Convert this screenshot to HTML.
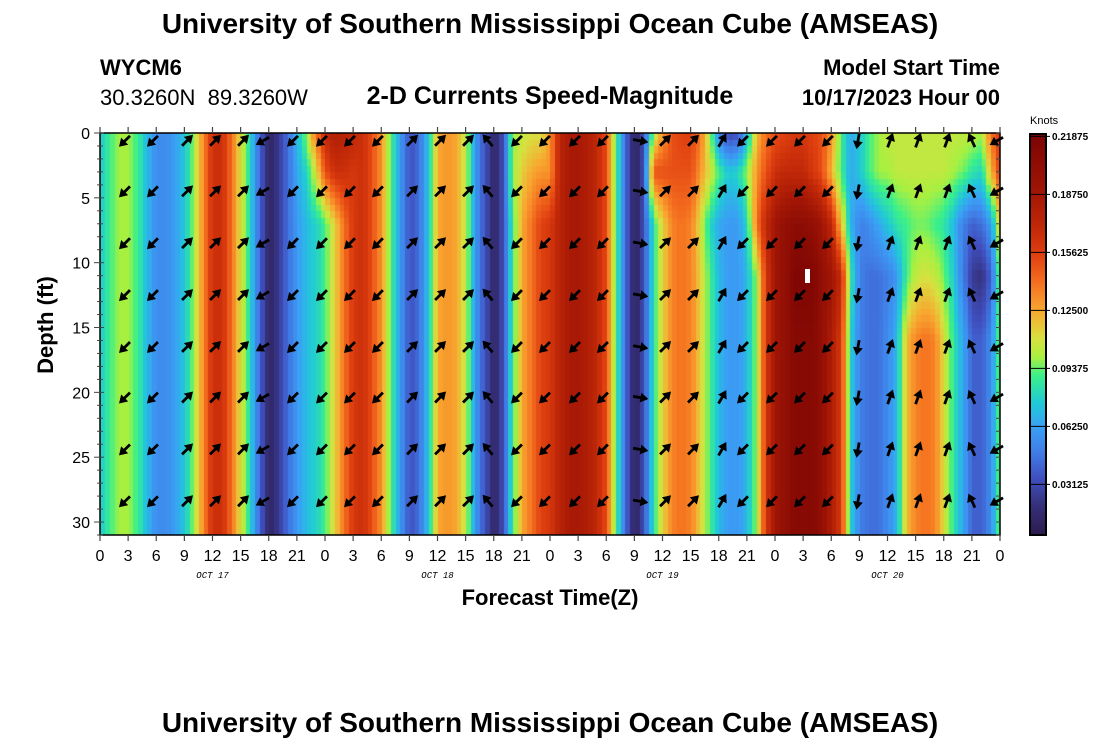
<!DOCTYPE html>
<html><head><meta charset="utf-8"><style>
body{margin:0;background:#fff;width:1100px;height:750px;overflow:hidden;position:relative;font-family:"Liberation Sans",sans-serif}
.t{position:absolute;white-space:nowrap;color:#000}
</style></head><body>
<div class="t" style="left:0;width:1100px;text-align:center;top:8px;font-size:28px;font-weight:bold">University of Southern Mississippi Ocean Cube (AMSEAS)</div>
<div class="t" style="left:100px;top:55px;font-size:22px;font-weight:bold">WYCM6</div>
<div class="t" style="left:100px;top:85px;font-size:22px">30.3260N&nbsp;&nbsp;89.3260W</div>
<div class="t" style="left:250px;width:600px;text-align:center;top:82px;font-size:25px;font-weight:bold">2-D Currents Speed-Magnitude</div>
<div class="t" style="right:100px;top:55px;font-size:22px;font-weight:bold">Model Start Time</div>
<div class="t" style="right:100px;top:85px;font-size:22px;font-weight:bold">10/17/2023 Hour 00</div>
<div class="t" style="left:0;width:1100px;text-align:center;top:707px;font-size:28px;font-weight:bold">University of Southern Mississippi Ocean Cube (AMSEAS)</div>
<canvas id="hm" width="900" height="402" style="position:absolute;left:100px;top:133px"></canvas>
<svg id="sv" width="1100" height="750" style="position:absolute;left:0;top:0"></svg>
<script>
const hours=[];for(let h=0;h<=96;h++)hours.push(h);
const speedDeep=[0.075,0.09,0.1,0.1,0.088,0.07,0.055,0.055,0.062,0.075,0.1,0.135,0.165,0.165,0.14,0.11,0.08,0.04,0.012,0.025,0.045,0.06,0.072,0.078,0.09,0.115,0.14,0.16,0.165,0.15,0.13,0.09,0.06,0.035,0.045,0.075,0.125,0.13,0.125,0.105,0.06,0.035,0.012,0.035,0.09,0.125,0.14,0.155,0.16,0.175,0.185,0.185,0.18,0.17,0.15,0.09,0.045,0.01,0.035,0.085,0.115,0.135,0.14,0.135,0.115,0.09,0.07,0.06,0.06,0.07,0.1,0.16,0.19,0.2,0.21,0.21,0.21,0.2,0.18,0.16,0.08,0.05,0.045,0.045,0.055,0.07,0.12,0.135,0.14,0.135,0.11,0.085,0.065,0.04,0.04,0.055,0.1];
const surface0={21:0.07,22:0.1,23:0.14,24:0.17,25:0.18,26:0.175,27:0.17,44:0.1,45:0.105,46:0.11,47:0.11,48:0.13,59:0.1,60:0.13,61:0.15,62:0.155,63:0.155,64:0.14,65:0.1,66:0.05,67:0.03,68:0.035,69:0.07,70:0.12,71:0.14,72:0.15,73:0.155,74:0.16,75:0.16,76:0.155,77:0.15,78:0.13,79:0.09,80:0.065,81:0.075,82:0.09,83:0.1,84:0.105,85:0.105,86:0.105,87:0.105,88:0.105,89:0.105,90:0.105,91:0.105,92:0.105,93:0.105,94:0.1,95:0.14,96:0.16};
const depth3={21:0.065,22:0.08,23:0.11,24:0.15,25:0.165,26:0.165,44:0.1,45:0.115,46:0.125,47:0.13,48:0.13,59:0.15,60:0.15,61:0.15,62:0.15,63:0.15,64:0.13,65:0.11,66:0.09,67:0.075,68:0.08,69:0.1,70:0.13,71:0.15,72:0.165,73:0.17,74:0.17,75:0.17,76:0.16,77:0.15,78:0.12,79:0.09,80:0.065,81:0.075,82:0.09,83:0.1,84:0.1,85:0.105,86:0.105,87:0.105,88:0.105,89:0.105,90:0.105,91:0.1,92:0.095,93:0.085,94:0.08,95:0.12,96:0.16};
const depth7={64:0.11,65:0.08,66:0.065,67:0.06,68:0.06,69:0.08,70:0.14,71:0.17,72:0.19,73:0.2,74:0.205,75:0.205,76:0.2,77:0.19,78:0.17,79:0.12,80:0.07,81:0.05,82:0.055,83:0.065,84:0.075,85:0.085,86:0.09,87:0.095,88:0.095,89:0.09,90:0.085,91:0.07,92:0.05,93:0.04,94:0.045,95:0.06,96:0.12};
const depth11={74:0.215,75:0.215,76:0.215,78:0.19,79:0.17,80:0.09,84:0.05,85:0.06,86:0.09,87:0.105,88:0.11,89:0.105,90:0.095,91:0.075,92:0.05,93:0.025,94:0.02,95:0.04,96:0.1};
const depthLevels=[0,3,7,11,16,31];
const arrowHours=[2.67,5.65,9.28,12.27,15.25,17.39,20.59,23.68,26.67,29.65,33.28,36.27,39.25,41.39,44.48,47.47,50.67,53.65,57.6,60.27,63.25,66.35,68.59,71.68,74.67,77.65,80.85,84.27,87.25,90.35,93.01,95.68];
const arrowAngles=[135,135,-45,-45,-45,150,135,135,135,135,-45,-45,-45,-130,135,135,135,135,10,-45,-45,-60,135,135,135,135,100,-70,-70,-70,-115,150];
const arrowDepths=[0.6,4.5,8.5,12.5,16.5,20.4,24.4,28.4];
const yTicks=[0,5,10,15,20,25,30];
const xTickLabels=['0','3','6','9','12','15','18','21'];
const dayLabels=['OCT 17','OCT 18','OCT 19','OCT 20'];
const cbTicks=[0.21875,0.1875,0.15625,0.125,0.09375,0.0625,0.03125];

const X0=100,W=900,Y0=133,H=402,HMAX=96,DMAX=31;
const xs=h=>X0+h/HMAX*W, ys=d=>Y0+d/DMAX*H;
const rows=[surface0,depth3,depth7,depth11,{},{}].map(o=>speedDeep.map((v,i)=>o[i]!==undefined?o[i]:v));
const stops=[[0,'#2a1440'],[0.02,'#35307a'],[0.035,'#4050c0'],[0.05,'#4080e8'],[0.0625,'#3aa0f5'],[0.075,'#20c8d8'],[0.09,'#3af08a'],[0.1,'#a8f040'],[0.11,'#d8e040'],[0.125,'#f8a830'],[0.14,'#f57020'],[0.155,'#e04010'],[0.17,'#c02808'],[0.19,'#a01505'],[0.22,'#7a0404']].map(s=>[s[0],parseInt(s[1].slice(1,3),16),parseInt(s[1].slice(3,5),16),parseInt(s[1].slice(5,7),16)]);
function cmap(v){if(v<=stops[0][0])return stops[0].slice(1);for(let i=1;i<stops.length;i++){if(v<=stops[i][0]){const a=stops[i-1],b=stops[i],f=(v-a[0])/(b[0]-a[0]);return[0,1,2].map(k=>a[k+1]+(b[k+1]-a[k+1])*f);}}return stops[stops.length-1].slice(1);}
function val(h,d){let li=0;while(li<depthLevels.length-2&&d>depthLevels[li+1])li++;const fd=Math.min(1,Math.max(0,(d-depthLevels[li])/(depthLevels[li+1]-depthLevels[li])));const i0=Math.min(95,Math.floor(h)),ft=h-i0;const r0=rows[li],r1=rows[li+1];const a=r0[i0]*(1-ft)+r0[i0+1]*ft,b=r1[i0]*(1-ft)+r1[i0+1]*ft;return a*(1-fd)+b*fd;}
const ctx=document.getElementById('hm').getContext('2d');const img=ctx.createImageData(W,H);
const cw=W/(HMAX*2),ch=H/(DMAX*2);
for(let py=0;py<H;py++){const d=(Math.floor(py/ch)+0.5)*ch/H*DMAX;for(let px=0;px<W;px++){const h=(Math.floor(px/cw)+0.5)*cw/W*HMAX;const c=cmap(val(h,d));const o=(py*W+px)*4;img.data[o]=c[0];img.data[o+1]=c[1];img.data[o+2]=c[2];img.data[o+3]=255;}}
ctx.putImageData(img,0,0);

const sv=document.getElementById('sv'),NS='http://www.w3.org/2000/svg';
function mk(t,a,txt){const e=document.createElementNS(NS,t);for(const k in a)e.setAttribute(k,a[k]);if(txt!==undefined)e.textContent=txt;sv.appendChild(e);return e;}
arrowHours.forEach((h,i)=>{arrowDepths.forEach(d=>{const g=mk('g',{transform:`translate(${xs(h)},${ys(d)}) rotate(${arrowAngles[i]})`});


const l=document.createElementNS(NS,'line');l.setAttribute('x1',-7);l.setAttribute('y1',0);l.setAttribute('x2',3);l.setAttribute('y2',0);l.setAttribute('stroke','#000');l.setAttribute('stroke-width','2.8');g.appendChild(l);
const p=document.createElementNS(NS,'path');p.setAttribute('d','M8.5,0 L0.5,-5 L0.5,5 Z');p.setAttribute('fill','#000');g.appendChild(p);});});
const wm=mk('rect',{x:805,y:269,width:5,height:14,fill:'#fff'});


const fr=mk('rect',{x:X0,y:Y0,width:W,height:H,fill:'none',stroke:'#000','stroke-width':1.5});


for(let d=0;d<=DMAX;d++){const y=ys(d),mj=d%5===0;mk('line',{x1:X0-(mj?6:3),y1:y,x2:X0+(mj?4:3),y2:y,stroke:'#444','stroke-width':1});mk('line',{x1:X0+W-4,y1:y,x2:X0+W,y2:y,stroke:'#444','stroke-width':1});}
yTicks.forEach(d=>{const t=mk('text',{x:X0-10,y:ys(d)+6,'text-anchor':'end','font-size':16,'font-family':'Liberation Sans'},String(d));

});
for(let h=0;h<=HMAX;h+=3){const x=xs(h);mk('line',{x1:x,y1:Y0-6,x2:x,y2:Y0,stroke:'#444','stroke-width':1.2});mk('line',{x1:x,y1:Y0+H,x2:x,y2:Y0+H+6,stroke:'#444','stroke-width':1.2});
const t=mk('text',{x:x,y:561,'text-anchor':'middle','font-size':16,'font-family':'Liberation Sans'},xTickLabels[(h/3)%8]);

}
dayLabels.forEach((s,i)=>{const t=mk('text',{x:xs(12+24*i),y:578,'text-anchor':'middle','font-size':9,'font-style':'italic','font-family':'Liberation Mono'},s);

});
const xt=mk('text',{x:550,y:605,'text-anchor':'middle','font-size':22,'font-weight':'bold','font-family':'Liberation Sans'},'Forecast Time(Z)');


const yt=mk('text',{x:0,y:0,transform:'translate(53,325) rotate(-90)','text-anchor':'middle','font-size':22,'font-weight':'bold','font-family':'Liberation Sans'},'Depth (ft)');


const CB0=134,CB1=535,VMAX=0.22,VMIN=0.004;const cy=v=>CB0+(VMAX-v)/(VMAX-VMIN)*(CB1-CB0);
for(let y=CB0;y<CB1;y++){const v=VMAX-(y-CB0)/(CB1-CB0)*(VMAX-VMIN);const c=cmap(v);mk('rect',{x:1030,y:y,width:16,height:1.2,fill:`rgb(${c.map(Math.round).join(',')})`});}
const cbf=mk('rect',{x:1030,y:CB0,width:16,height:CB1-CB0,fill:'none',stroke:'#000','stroke-width':2});


cbTicks.forEach(v=>{mk('line',{x1:1030,y1:cy(v),x2:1050,y2:cy(v),stroke:'#000','stroke-width':1});
const t=mk('text',{x:1052,y:cy(v)+3.5,'font-size':10,'font-weight':'bold','font-family':'Liberation Sans'},v.toFixed(5));

});
const kn=mk('text',{x:1030,y:124,'font-size':11,'font-family':'Liberation Sans'},'Knots');


</script>
</body></html>
